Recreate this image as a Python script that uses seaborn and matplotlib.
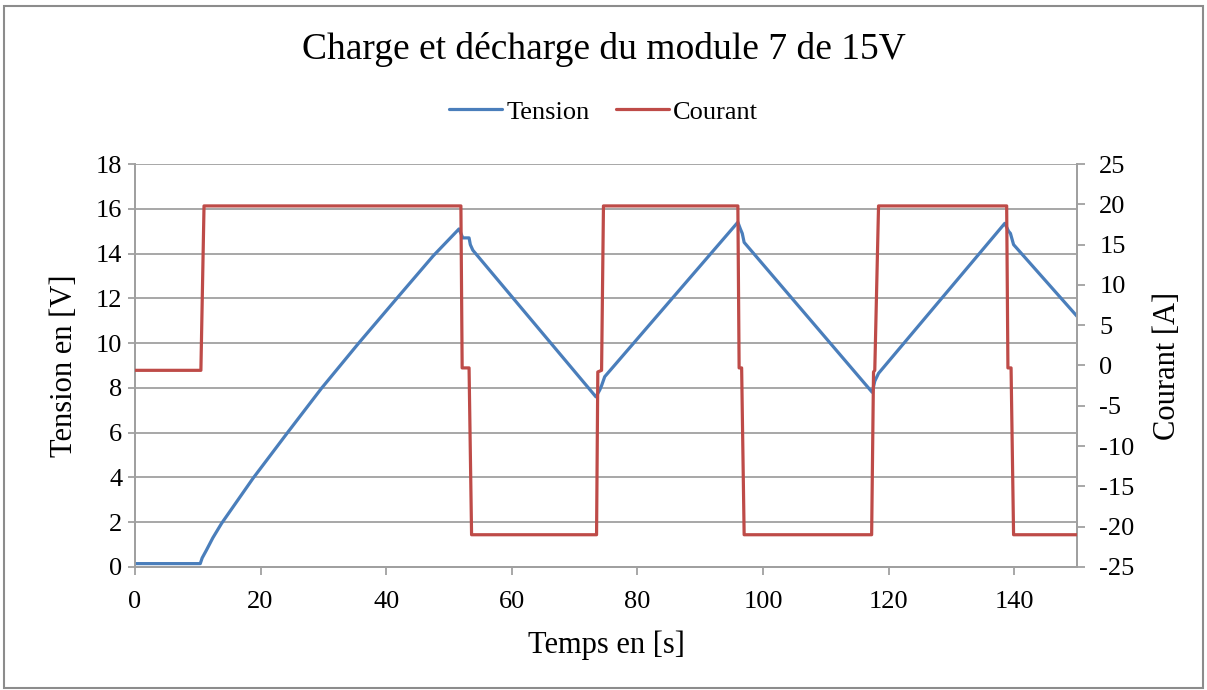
import numpy as np
import pandas as pd
import matplotlib
matplotlib.use("Agg")
import matplotlib.pyplot as plt
import seaborn as sns
from matplotlib.lines import Line2D
from matplotlib.patches import Rectangle

# Voltage of module 7 over time
temps_tension = [0, 10.4, 10.7, 11.4, 12.4, 13.8, 18.8, 24.4, 29.7, 35.6, 41.7, 47.5, 51.6,
                 52.2, 53.2, 53.4, 53.8, 73.4, 74.0, 74.3, 74.8, 96.0, 96.4, 96.7,
                 97.0, 117.4, 117.8, 118.4, 138.5, 139.1, 139.4, 139.9, 150]
tension = [0.15, 0.15, 0.4, 0.76, 1.3, 1.95, 3.96, 6.04, 7.98, 9.99, 12.0, 13.9, 15.1,
           14.7, 14.7, 14.4, 14.15, 7.6, 7.9, 8.1, 8.5, 15.4, 15.1, 14.9,
           14.5, 7.8, 8.3, 8.65, 15.35, 15.0, 14.9, 14.4, 11.2]

# Charge / discharge current
temps_courant = [0, 10.5, 11.0, 51.9, 52.1, 53.2, 53.6, 73.5, 73.7, 74.3, 74.6,
                 96.0, 96.2, 96.6, 97.0, 117.3, 117.6, 117.8, 118.4,
                 138.8, 139.0, 139.5, 139.9, 150]
courant = [-0.6, -0.6, 19.8, 19.8, -0.3, -0.3, -21.0, -21.0, -0.8, -0.6, 19.8,
           19.8, -0.3, -0.3, -21.0, -21.0, -0.8, -0.6, 19.8,
           19.8, -0.3, -0.3, -21.0, -21.0]

x_ticks = [0, 20, 40, 60, 80, 100, 120, 140]
y_ticks = [0, 2, 4, 6, 8, 10, 12, 14, 16, 18]
y2_ticks = [-25, -20, -15, -10, -5, 0, 5, 10, 15, 20, 25]

BLUE = "#4A7EBB"
RED = "#BE4B48"
GRID = "#A0A0A0"

sns.set_theme(style="white")
plt.rcParams["font.family"] = ["Liberation Serif", "DejaVu Serif"]
plt.rcParams["text.color"] = "black"
plt.rcParams["axes.labelcolor"] = "black"
plt.rcParams["xtick.labelcolor"] = "black"
plt.rcParams["ytick.labelcolor"] = "black"

df_v = pd.DataFrame({"Temps": temps_tension, "Tension": tension})
df_i = pd.DataFrame({"Temps": temps_courant, "Courant": courant})

fig = plt.figure(figsize=(12.07, 6.90), dpi=100)
ax = fig.add_axes([0.1118, 0.1783, 0.7805, 0.584])
ax2 = ax.twinx()

sns.lineplot(data=df_v, x="Temps", y="Tension", ax=ax, color=BLUE, lw=2.3,
             legend=False, zorder=3)
sns.lineplot(data=df_i, x="Temps", y="Courant", ax=ax2, color=RED, lw=2.3,
             legend=False, zorder=3)

ax.set_xlim(0, 150)
ax.set_ylim(0, 18)
ax2.set_ylim(-25, 25)
ax.set_xticks(x_ticks)
ax.set_yticks(y_ticks)
ax2.set_yticks(y2_ticks)
ax2.set_yticklabels([str(v) for v in y2_ticks])

ax.yaxis.grid(True, color=GRID, lw=1.3)
ax.xaxis.grid(False)
ax2.grid(False)
ax.set_axisbelow(True)

for a in (ax, ax2):
    a.spines["top"].set_visible(False)
    for side in ("left", "bottom", "right"):
        a.spines[side].set_color(GRID)
        a.spines[side].set_linewidth(1.3)

ax.tick_params(axis="x", direction="out", length=6, width=1.3, color=GRID,
               labelsize=19, pad=11, bottom=True)
ax.tick_params(axis="y", direction="out", length=5, width=1.3, color=GRID,
               labelsize=19, pad=4, left=True)
ax2.tick_params(axis="y", direction="out", length=6, width=1.3, color=GRID,
                labelsize=19, pad=10, right=True)

ax.set_xlabel("Temps en [s]", fontsize=22, labelpad=13)
ax.set_ylabel("Tension en [V]", fontsize=22, labelpad=12)
ax2.set_ylabel("Courant [A]", fontsize=22, labelpad=13)

fig.text(0.5, 0.928, "Charge et décharge du module 7 de 15V", ha="center",
         va="center", fontsize=27)

handles = [Line2D([], [], color=BLUE, lw=2.3), Line2D([], [], color=RED, lw=2.3)]
fig.legend(handles, ["Tension", "Courant"], loc="center",
           bbox_to_anchor=(0.5, 0.838), ncol=2, frameon=False, fontsize=19,
           handlelength=2.0, handletextpad=0.15, columnspacing=1.0)

fig.patches.append(Rectangle((0.003, 0.003), 0.994, 0.988, transform=fig.transFigure,
                             fill=False, edgecolor="#8C8C8C", lw=1.5))

fig.savefig("out.png", dpi=100)
